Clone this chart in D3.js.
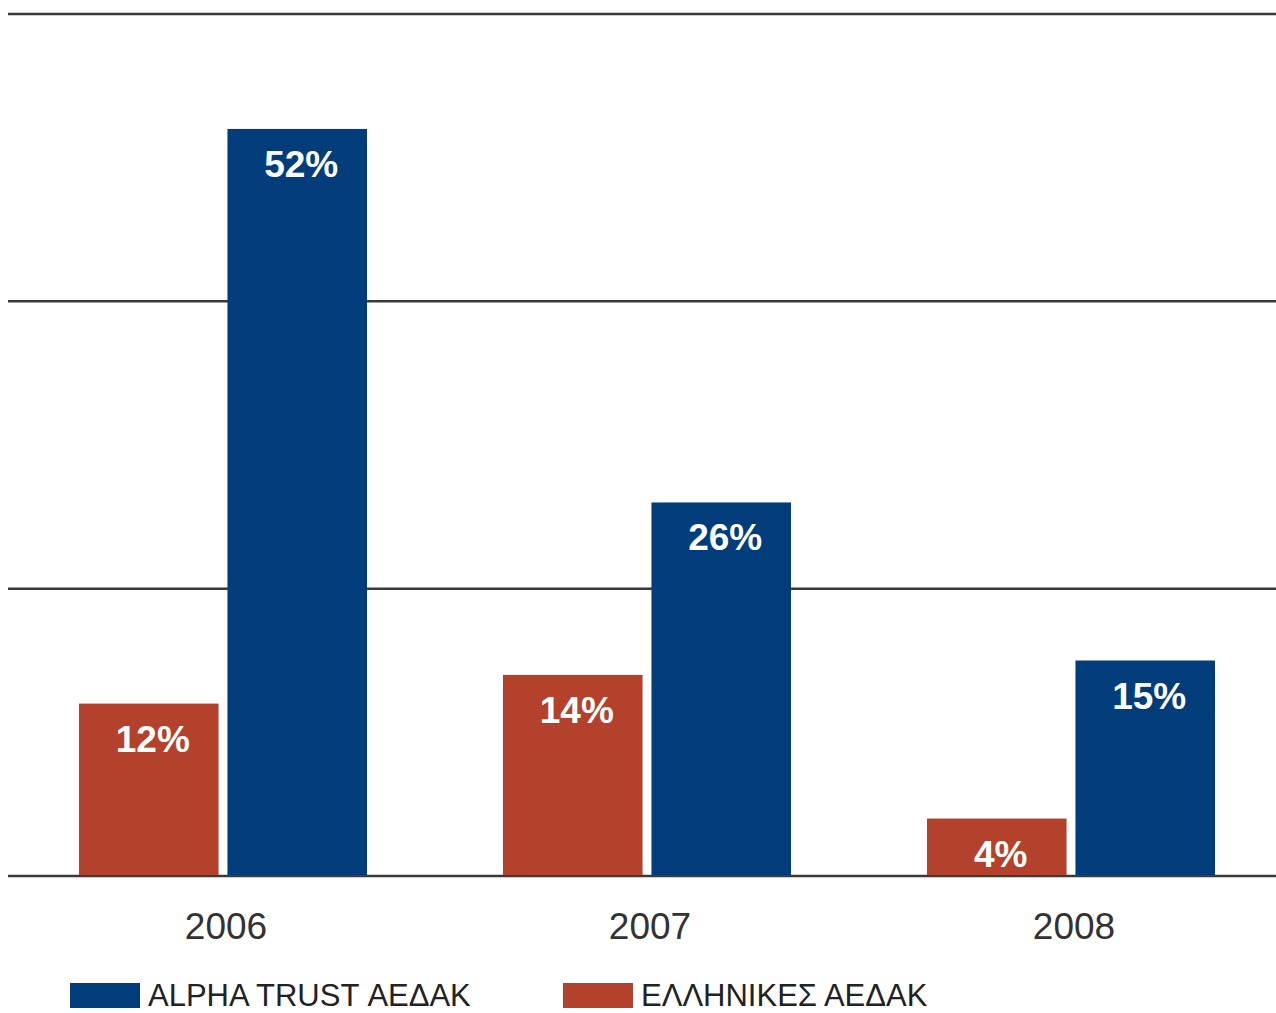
<!DOCTYPE html>
<html>
<head>
<meta charset="utf-8">
<script src="https://cdn.jsdelivr.net/npm/d3@7"></script>
<style>
  body { margin: 0; background: #fff; }
  svg { display: block; }
</style>
</head>
<body>
<svg id="chart" width="1276" height="1013"></svg>
<script>
(function () {
  'use strict';

  // chart data
  const years = ['2006', '2007', '2008'];
  const seriesNames = ['ΕΛΛΗΝΙΚΕΣ ΑΕΔΑΚ', 'ALPHA TRUST ΑΕΔΑΚ'];
  const greekFunds = [12, 14, 4];
  const alphaTrust = [52, 26, 15];
  const gridTicks = [0, 20, 40, 60];

  const colors = { 'ΕΛΛΗΝΙΚΕΣ ΑΕΔΑΚ': '#b3412b', 'ALPHA TRUST ΑΕΔΑΚ': '#003d7a' };

  const svg = d3.select('#chart');
  const left = 8, right = 1276, top = 14, bottom = 876;

  const x = d3.scaleBand().domain(years).range([11, 1283]).paddingInner(0).paddingOuter(0);
  const y = d3.scaleLinear().domain([0, 60]).range([bottom, top]);
  const xs = d3.scaleBand().domain(seriesNames).range([0, 288]).paddingInner(0.06);

  // gridlines
  svg.append('g')
    .selectAll('line')
    .data(gridTicks)
    .join('line')
    .attr('x1', left)
    .attr('x2', right)
    .attr('y1', d => y(d))
    .attr('y2', d => y(d))
    .attr('stroke', '#3a3a3a')
    .attr('stroke-width', 2.5);

  const rows = years.map((yr, i) => ({
    year: yr,
    values: [
      { name: seriesNames[0], v: greekFunds[i] },
      { name: seriesNames[1], v: alphaTrust[i] }
    ]
  }));

  const groups = svg.append('g')
    .selectAll('g')
    .data(rows)
    .join('g')
    .attr('transform', d => 'translate(' + (x(d.year) + x.bandwidth() / 2 - 144) + ',0)');

  groups.selectAll('rect')
    .data(d => d.values)
    .join('rect')
    .attr('x', d => xs(d.name))
    .attr('width', xs.bandwidth())
    .attr('y', d => y(d.v))
    .attr('height', d => y(0) - y(d.v) - 1)
    .attr('fill', d => colors[d.name]);

  groups.selectAll('text.val')
    .data(d => d.values)
    .join('text')
    .attr('class', 'val')
    .attr('x', d => xs(d.name) + xs.bandwidth() / 2 + 4)
    .attr('y', d => y(d.v) + 48)
    .attr('text-anchor', 'middle')
    .attr('fill', '#fff')
    .attr('font-family', 'Liberation Sans, Arial, sans-serif')
    .attr('font-weight', 'bold')
    .attr('font-size', 37)
    .text(d => d.v + '%');

  // year labels
  svg.append('g')
    .selectAll('text')
    .data(years)
    .join('text')
    .attr('x', d => x(d) + x.bandwidth() / 2 + 3)
    .attr('y', 939)
    .attr('text-anchor', 'middle')
    .attr('fill', '#333')
    .attr('font-family', 'Liberation Sans, Arial, sans-serif')
    .attr('font-size', 37)
    .text(d => d);

  // legend
  const legendItems = [
    { name: seriesNames[1], x: 70 },
    { name: seriesNames[0], x: 563 }
  ];
  const legend = svg.append('g')
    .selectAll('g')
    .data(legendItems)
    .join('g')
    .attr('transform', d => 'translate(' + d.x + ',983)');

  legend.append('rect')
    .attr('width', 70)
    .attr('height', 25)
    .attr('fill', d => colors[d.name]);

  legend.append('text')
    .attr('x', 78)
    .attr('y', 23)
    .attr('fill', '#222')
    .attr('font-family', 'Liberation Sans, Arial, sans-serif')
    .attr('font-size', 31)
    .text(d => d.name);
}());
</script>
</body>
</html>
